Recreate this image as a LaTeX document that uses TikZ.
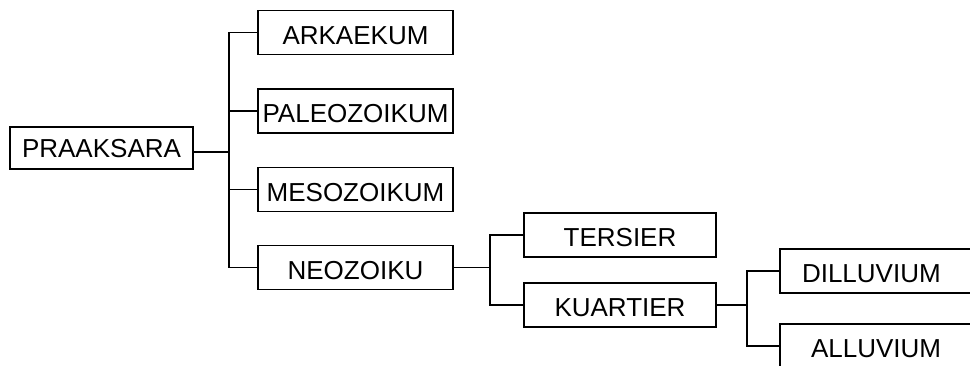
\documentclass[tikz,border=0pt]{standalone}
\usepackage{fontspec}
\setmainfont{Liberation Sans}
\begin{document}
\begin{tikzpicture}[x=1pt,y=-1pt,
  box/.style={draw, line width=1.3pt, inner sep=0pt, minimum width=195pt, minimum height=44pt,
    text height=23.6pt, text depth=0pt, font=\fontsize{26}{30}\selectfont},
  conn/.style={line width=1.3pt}]
\useasboundingbox (0,0) rectangle (970,365);
\clip (0,0) rectangle (970,365);
\node[box, minimum width=183pt, minimum height=42pt, text height=19.6pt] (prak) at (101.5,148) {PRAAKSARA};
\node[box] (ark) at (355.5,32.5) {ARKAEKUM};
\node[box] (pal) at (355.5,111) {PALEOZOIKUM};
\node[box] (meso) at (355.5,189.5) {MESOZOIKUM};
\node[box] (neo) at (355.5,267.5) {NEOZOIKU};
\node[box, minimum width=192pt] (ters) at (620,235) {TERSIER};
\node[box, minimum width=192pt] (kuar) at (620,305) {KUARTIER};
\node[box, minimum width=200pt, text width=180pt, align=left] (dill) at (880,271) {\hspace*{12pt}DILLUVIUM};
\node[box, minimum width=200pt, text width=180pt, align=left] (allu) at (880,346) {\hspace*{21pt}ALLUVIUM};
\coordinate (j1) at (229,152);
\coordinate (j2) at (490,267.5);
\coordinate (j3) at (747,305);
\draw[conn] ([yshift=-4pt]prak.east) -- (j1);
\draw[conn] (ark.west) -| (j1) |- (neo.west);
\draw[conn] (j1) |- (pal.west);
\draw[conn] (j1) |- (meso.west);
\draw[conn] (neo.east) -- (j2);
\draw[conn] (ters.west) -| (j2) |- (kuar.west);
\draw[conn] (kuar.east) -- (j3);
\draw[conn] (dill.west) -| (j3) |- (allu.west);
\end{tikzpicture}
\end{document}
